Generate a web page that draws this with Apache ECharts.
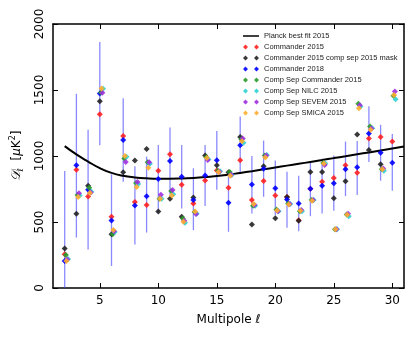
<!DOCTYPE html>
<html>
<head>
<meta charset="utf-8">
<script src="https://cdn.jsdelivr.net/npm/echarts@6/dist/echarts.min.js"></script>
<style>
  html, body { margin: 0; padding: 0; background: #fff; }
  #main { width: 416px; height: 339px; }
</style>
</head>
<body>
<div id="main"></div>
<script>
/* multipoles */
const ells = [2, 3, 4, 5, 6, 7, 8, 9, 10, 11, 12, 13, 14, 15, 16, 17, 18, 19, 20, 21, 22, 23, 24, 25, 26, 27, 28, 29, 30];

/* D_ell values, uK^2 */
const commander2015 = [255, 896, 694, 1317, 539, 1152, 651, 628, 889, 1013, 782, 641, 815, 891, 760, 967, 666, 810, 701, 689, 514, 752, 805, 833, 929, 874, 1132, 1144, 1109];
const commanderMask = [300, 562, 775, 1415, 408, 876, 965, 1053, 580, 676, 539, 686, 1003, 929, 876, 1144, 481, 922, 529, 689, 509, 879, 879, 679, 808, 1162, 1046, 937, null];
const commander2018 = [205, 929, 744, 1474, 511, 1122, 625, 696, 825, 962, 843, 666, 853, 967, 646, 1081, 785, 904, 755, 671, 641, 752, 775, 793, 899, 914, 1170, 1025, 949];
const csCommander = [250, 704, 760, 1481, 408, 982, 795, 952, 676, 734, 527, 575, 990, 889, 879, 1127, 623, 1003, 595, 641, 582, 666, 947, 446, 557, 1395, 1223, 899, 1456];
const csNilc = [220, 700, 729, 1509, 425, 995, 787, 942, 676, 711, 494, 562, 975, 884, 856, 1101, 623, 1008, 582, 636, 582, 666, 944, 446, 544, 1375, 1210, 889, 1430];
const csSevem = [215, 717, 724, 1479, 430, 955, 803, 952, 706, 742, 509, 560, 970, 881, 858, 1132, 628, 1003, 582, 636, 590, 666, 932, 446, 562, 1385, 1208, 906, 1488];
const csSmica = [205, 689, 719, 1512, 440, 1000, 765, 911, 676, 701, 501, 580, 985, 879, 851, 1112, 636, 988, 587, 633, 585, 661, 944, 446, 555, 1362, 1198, 899, 1463];

/* Commander 2018 error bars */
const errLo = [0, 382, 291, 1081, 167, 805, 329, 420, 566, 709, 602, 438, 622, 744, 426, 863, 565, 691, 552, 456, 430, 544, 565, 585, 696, 704, 955, 813, 737];
const errHi = [886, 1471, 1198, 1864, 861, 1438, 922, 995, 1084, 1215, 1084, 907, 1084, 1190, 866, 1299, 1000, 1117, 965, 881, 851, 957, 980, 1003, 1109, 1114, 1377, 1236, 1167];

/* best fit curve */
const fitEll = [2, 3, 4, 5, 6, 7, 8, 9, 10, 11, 12, 13, 14, 15, 16, 17, 18, 19, 20, 21, 22, 23, 24, 25, 26, 27, 28, 29, 30, 31];
const bestFit = [1075, 1012, 958, 908, 872, 850, 838, 831, 828, 828, 830, 834, 840, 848, 859, 872, 885, 899, 913, 927, 941, 955, 969, 984, 998, 1013, 1027, 1042, 1057, 1072];

const xTicks = [5, 10, 15, 20, 25, 30];

var chartDom = document.getElementById('main');
var myChart = echarts.init(chartDom, null, { renderer: 'canvas' });

const font = 'DejaVu Sans';
const twoDiamonds = 'path://M0,5L5,0L10,5L5,10Z M22,5L27,0L32,5L27,10Z';
const lineIcon = 'path://M0,0H32V3H0Z';

// small helper, scatter points shifted a bit along x
function pts(vals, shift) {
  return ells.map((l, i) => [l + shift, vals[i]]).filter(p => p[1] != null);
}

function scatter(name, vals, shift, color) {
  return {
    name: name,
    type: 'scatter',
    symbol: 'diamond',
    symbolSize: 6,
    data: pts(vals, shift),
    itemStyle: { color: color, opacity: 0.9 },
    z: 3
  };
}

var option = {
  animation: false,
  grid: { left: 53, right: 12, top: 24, bottom: 51 },
  legend: {
    orient: 'vertical',
    left: 238,
    top: 27,
    itemWidth: 16,
    itemHeight: 5,
    itemGap: 3,
    textStyle: { fontFamily: 'Liberation Sans', fontSize: 7.5, color: '#222', lineHeight: 8 },
    data: [
      { name: 'Planck best fit 2015', icon: lineIcon },
      { name: 'Commander 2015', icon: twoDiamonds },
      { name: 'Commander 2015 comp sep 2015 mask', icon: twoDiamonds },
      { name: 'Commander 2018', icon: twoDiamonds },
      { name: 'Comp Sep Commander 2015', icon: twoDiamonds },
      { name: 'Comp Sep NILC 2015', icon: twoDiamonds },
      { name: 'Comp Sep SEVEM 2015', icon: twoDiamonds },
      { name: 'Comp Sep SMICA 2015', icon: twoDiamonds }
    ]
  },
  xAxis: [{
    type: 'value', min: 1, max: 31,
    name: 'Multipole ℓ', nameLocation: 'middle', nameGap: 26,
    nameTextStyle: { fontFamily: font, fontSize: 12, color: '#000' },
    axisLine: { onZero: false, lineStyle: { color: '#000', width: 1.5 } },
    axisTick: { inside: true, length: 5, customValues: xTicks, lineStyle: { color: '#000' } },
    axisLabel: { customValues: xTicks, fontFamily: font, fontSize: 12, color: '#000', margin: 7 },
    splitLine: { show: false }
  }, {
    type: 'value', min: 1, max: 31, position: 'top',
    axisLine: { onZero: false, lineStyle: { color: '#000', width: 1.5 } },
    axisTick: { inside: true, length: 5, customValues: xTicks, lineStyle: { color: '#000' } },
    axisLabel: { show: false },
    splitLine: { show: false }
  }],
  yAxis: [{
    type: 'value', min: 0, max: 2000, interval: 500,
    name: '{d|𝒟}{s|ℓ}  [{m|μ}K{p|2}]', nameLocation: 'middle', nameGap: 28, nameRotate: 90,
    nameTextStyle: {
      fontFamily: font, fontSize: 12, color: '#000',
      rich: {
        d: { fontFamily: font, fontSize: 13, fontStyle: 'italic', lineHeight: 16 },
        s: { fontFamily: font, fontSize: 8, fontStyle: 'italic', verticalAlign: 'bottom', lineHeight: 16 },
        m: { fontFamily: font, fontSize: 12, fontStyle: 'italic' },
        p: { fontFamily: font, fontSize: 8, verticalAlign: 'top', lineHeight: 16 }
      }
    },
    axisLine: { onZero: false, lineStyle: { color: '#000', width: 1.5 } },
    axisTick: { inside: true, length: 5, lineStyle: { color: '#000' } },
    axisLabel: { rotate: 90, fontFamily: font, fontSize: 12, color: '#000', margin: 7, formatter: v => String(v) },
    splitLine: { show: false }
  }, {
    type: 'value', min: 0, max: 2000, interval: 500, position: 'right',
    axisLine: { show: true, onZero: false, lineStyle: { color: '#000', width: 1.5 } },
    axisTick: { show: true, inside: true, length: 5, lineStyle: { color: '#000' } },
    axisLabel: { show: false },
    splitLine: { show: false }
  }],
  series: [
    {
      name: 'errors',
      type: 'custom',
      z: 1,
      data: ells.map((l, i) => [l, errLo[i], errHi[i]]),
      renderItem: function (params, api) {
        var a = api.coord([api.value(0), api.value(1)]);
        var b = api.coord([api.value(0), api.value(2)]);
        return {
          type: 'line',
          shape: { x1: a[0], y1: a[1], x2: b[0], y2: b[1] },
          style: { stroke: 'rgba(60,60,255,0.6)', lineWidth: 1.3 }
        };
      }
    },
    {
      name: 'Planck best fit 2015',
      type: 'line',
      smooth: true,
      showSymbol: false,
      data: fitEll.map((l, i) => [l, bestFit[i]]),
      lineStyle: { color: '#000', width: 2 },
      itemStyle: { color: '#000' },
      z: 2
    },
    scatter('Commander 2015', commander2015, 0, '#ff2020'),
    scatter('Commander 2015 comp sep 2015 mask', commanderMask, 0, '#222222'),
    scatter('Commander 2018', commander2018, 0, '#0000ff'),
    scatter('Comp Sep Commander 2015', csCommander, 0.1, '#2a9a2a'),
    scatter('Comp Sep NILC 2015', csNilc, 0.28, '#30d0d0'),
    scatter('Comp Sep SEVEM 2015', csSevem, 0.22, '#a030e0'),
    scatter('Comp Sep SMICA 2015', csSmica, 0.15, '#ffae30')
  ]
};
myChart.setOption(option);
</script>
</body>
</html>
